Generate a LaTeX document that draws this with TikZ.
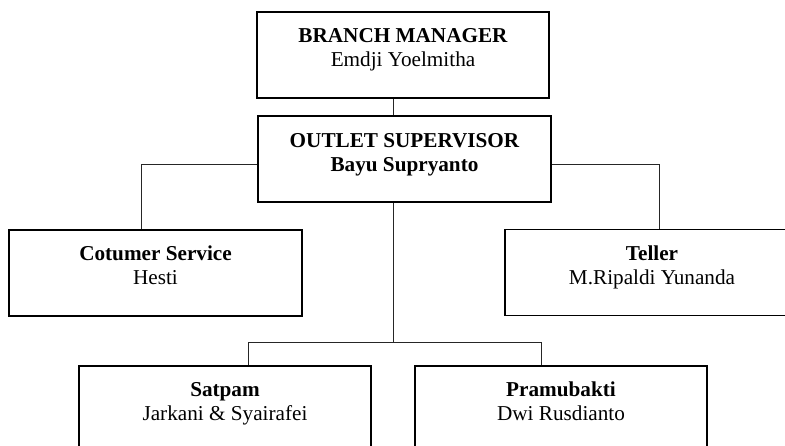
\documentclass[tikz,border=0pt]{standalone}
\usepackage{fontspec}
\setmainfont{Liberation Serif}
\begin{document}
\begin{tikzpicture}[x=1pt,y=-1pt,
  box/.style={draw=black,line width=1.6pt,rectangle,minimum width=#1,minimum height=86pt,inner sep=0pt},
  box/.default=292pt,
  ttl/.style={anchor=base,inner sep=0pt,font=\fontsize{21.2}{24}\selectfont\bfseries},
  nm/.style={anchor=base,inner sep=0pt,font=\fontsize{21.2}{24}\selectfont},
  link/.style={draw=black!85,line width=0.9pt}]
\useasboundingbox (0,0) rectangle (785,446);
\clip (0,0) rectangle (785,446);
% boxes
\node[box=292pt] (bm) at (403,55) {};
\node[box=293pt] (os) at (404.5,159) {};
\node[box=293pt] (cs) at (155.5,273) {};
\node[box=294pt] (tl) at (652,272.5) {};
\node[box=292pt] (sp) at (225,409) {};
\node[box=292pt] (pb) at (561,409) {};
% texts
\node[ttl] (bmt) at ([yshift=-31pt]bm.north) {BRANCH MANAGER};
\node[nm]  (bmn) at ([yshift=-55pt]bm.north) {Emdji Yoelmitha};
\node[ttl] (ost) at ([yshift=-32pt]os.north) {OUTLET SUPERVISOR};
\node[ttl] (osn) at ([yshift=-56pt]os.north) {Bayu Supryanto};
\node[ttl] (cst) at ([yshift=-31pt]cs.north) {Cotumer Service};
\node[nm]  (csn) at ([yshift=-55pt]cs.north) {Hesti};
\node[ttl] (tlt) at ([yshift=-32pt]tl.north) {Teller};
\node[nm]  (tln) at ([yshift=-56pt]tl.north) {M.Ripaldi Yunanda};
\node[ttl] (spt) at ([yshift=-31pt]sp.north) {Satpam};
\node[nm]  (spn) at ([yshift=-55pt]sp.north) {Jarkani \& Syairafei};
\node[ttl] (pbt) at ([yshift=-31pt]pb.north) {Pramubakti};
\node[nm]  (pbn) at ([yshift=-55pt]pb.north) {Dwi Rusdianto};
% connector coordinates
\coordinate (trunk) at (393,342);
\coordinate (lc) at (141,164);
\coordinate (rc) at (659,164);
\coordinate (bl) at (248,342);
\coordinate (br) at (541,342);
% connectors
\draw[link] (bm.south -| trunk) -- (os.north -| trunk);
\draw[link] (lc -| os.west) -| (cs.north -| lc);
\draw[link] (rc -| os.east) -| (tl.north -| rc);
\draw[link] (os.south -| trunk) -- (trunk);
\draw[link] (sp.north -| bl) -- (bl) -- (br) -- (pb.north -| br);
\end{tikzpicture}
\end{document}
